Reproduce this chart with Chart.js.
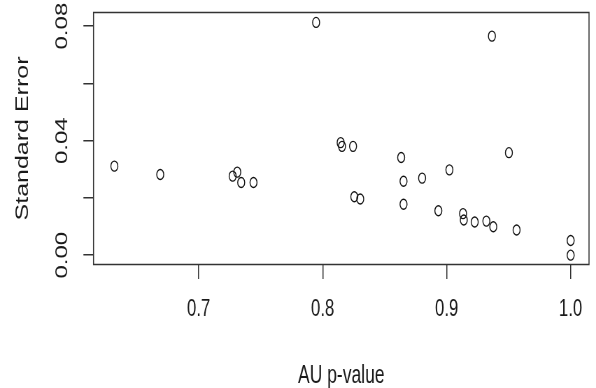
<!DOCTYPE html>
<html>
<head>
<meta charset="utf-8">
<script src="https://cdn.jsdelivr.net/npm/chart.js@4"></script>
<style>
    html, body { margin: 0; padding: 0; background: #fff; overflow: hidden; }
    /* the reference is squeezed horizontally, so draw wide and squeeze */
    #chart { transform: scaleX(0.69953); transform-origin: 0 0; display: block; }
</style>
</head>
<body>
<canvas id="chart" width="852" height="388"></canvas>
<script>
    // AU p-value vs standard error
    const auValues = [
        0.632, 0.669, 0.7274, 0.7311, 0.7343, 0.7442, 0.7947, 0.8145, 0.8156, 0.8245,
        0.8255, 0.8303, 0.8633, 0.8652, 0.8652, 0.8802, 0.8933, 0.9022, 0.9132, 0.9138,
        0.9226, 0.932, 0.9376, 0.9365, 0.9502, 0.9564, 1.0, 1.0
    ];
    const seValues = [
        0.0311, 0.0282, 0.0276, 0.0290, 0.0254, 0.0254, 0.0813, 0.0393, 0.0380, 0.0380,
        0.0204, 0.0196, 0.0341, 0.0258, 0.0178, 0.0269, 0.0155, 0.0298, 0.0145, 0.0123,
        0.0116, 0.0119, 0.0099, 0.0765, 0.0358, 0.0088, 0.0051, 0.0
    ];

    const xTicks = [0.7, 0.8, 0.9, 1.0];
    const xTickLabels = ['0.7', '0.8', '0.9', '1.0'];
    const yTicks = [0, 0.02, 0.04, 0.06, 0.08];
    const yTickLabels = ['0.00', '', '0.04', '', '0.08'];

    const xRange = [0.6152, 1.0148];
    const yRange = [-0.00326, 0.08476];

    const ink = '#333';
    const textColor = '#1a1a1a';
    const fontFamily = "'Liberation Sans', Arial, sans-serif";

    const points = auValues.map((x, i) => ({ x: x, y: seValues[i] }));

    // R style box() around the plot region
    const boxPlugin = {
        id: 'box',
        afterDatasetsDraw(chart) {
            const { ctx, chartArea } = chart;
            ctx.save();
            ctx.strokeStyle = ink;
            ctx.lineWidth = 1.5;
            ctx.strokeRect(chartArea.left, chartArea.top,
                chartArea.right - chartArea.left, chartArea.bottom - chartArea.top);
            ctx.restore();
        }
    };

    new Chart(document.getElementById('chart'), {
        type: 'scatter',
        data: {
            datasets: [{
                data: points,
                pointStyle: 'circle',
                pointRadius: 5,
                pointHoverRadius: 5,
                backgroundColor: 'rgba(0,0,0,0)',
                borderColor: '#111',
                borderWidth: 1.4
            }]
        },
        options: {
            responsive: false,
            animation: false,
            devicePixelRatio: 1,
            layout: {
                padding: { top: 12.5, right: 10, bottom: 0, left: 0 }
            },
            plugins: {
                legend: { display: false },
                tooltip: { enabled: false }
            },
            scales: {
                x: {
                    type: 'linear',
                    min: xRange[0],
                    max: xRange[1],
                    afterBuildTicks: axis => {
                        axis.ticks = xTicks.map(v => ({ value: v }));
                    },
                    afterFit: axis => {
                        axis.height = 123.5;
                        axis.paddingLeft = 0;
                        axis.paddingRight = 0;
                    },
                    border: { display: false },
                    grid: {
                        drawOnChartArea: false,
                        drawTicks: true,
                        tickLength: 14.5,
                        color: ink,
                        lineWidth: 1.5
                    },
                    ticks: {
                        maxRotation: 0,
                        minRotation: 0,
                        padding: 16,
                        color: textColor,
                        font: { family: fontFamily, size: 24 },
                        callback: (value) => {
                            const i = xTicks.findIndex(t => Math.abs(t - value) < 1e-9);
                            return i >= 0 ? xTickLabels[i] : '';
                        }
                    },
                    title: {
                        display: true,
                        text: 'AU p-value',
                        color: textColor,
                        font: { family: fontFamily, size: 25 },
                        padding: { top: 0, bottom: -3 }
                    }
                },
                y: {
                    type: 'linear',
                    min: yRange[0],
                    max: yRange[1],
                    afterBuildTicks: axis => {
                        axis.ticks = yTicks.map(v => ({ value: v }));
                    },
                    afterFit: axis => {
                        axis.width = 133.7;
                        axis.paddingTop = 0;
                        axis.paddingBottom = 0;
                    },
                    border: { display: false },
                    grid: {
                        drawOnChartArea: false,
                        drawTicks: true,
                        tickLength: 14.5,
                        color: ink,
                        lineWidth: 1.5
                    },
                    ticks: {
                        minRotation: 90,
                        maxRotation: 90,
                        crossAlign: 'center',
                        padding: 6,
                        color: textColor,
                        font: { family: fontFamily, size: 24 },
                        callback: (value) => {
                            const i = yTicks.findIndex(t => Math.abs(t - value) < 1e-9);
                            return i >= 0 ? yTickLabels[i] : '';
                        }
                    },
                    title: {
                        display: true,
                        text: 'Standard Error',
                        color: textColor,
                        font: { family: fontFamily, size: 25 },
                        padding: { top: 18, bottom: 18 }
                    }
                }
            }
        },
        plugins: [boxPlugin]
    });
</script>
</body>
</html>
